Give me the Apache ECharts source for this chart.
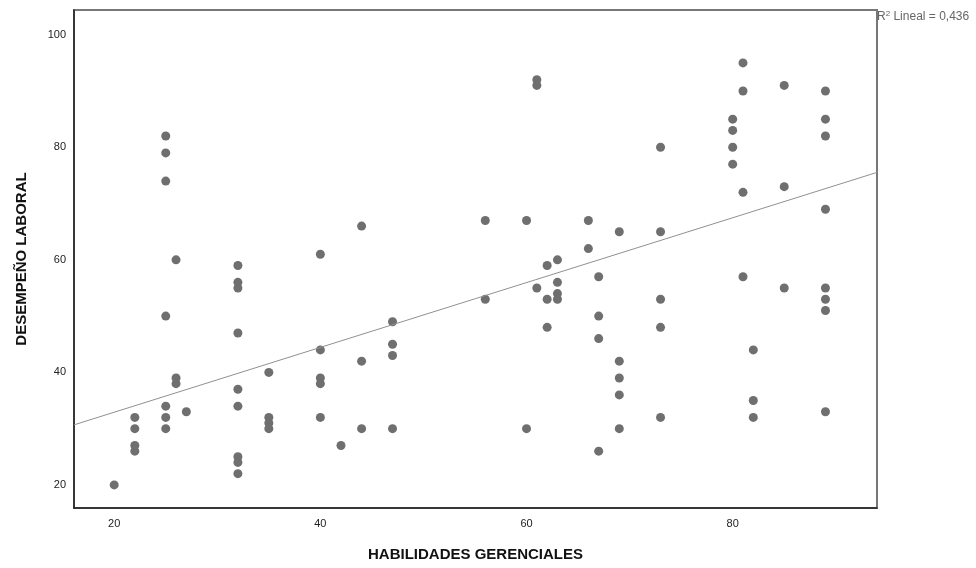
<!DOCTYPE html>
<html>
<head>
    <meta charset="utf-8">
    <title>Desempeño laboral vs habilidades gerenciales</title>
    <script src="https://cdn.jsdelivr.net/npm/echarts@6/dist/echarts.min.js"></script>
    <style>
        html, body { margin: 0; padding: 0; background: #fff; }
        #chart { width: 976px; height: 568px; }
    </style>
</head>
<body>
<div id="chart"></div>
<script type="text/javascript">
    // HABILIDADES GERENCIALES (x) y DESEMPEÑO LABORAL (y)
    const habX = [
        20,
        22, 22, 22, 22,
        25, 25, 25, 25, 25, 25, 25,
        26, 26, 26,
        27,
        32, 32, 32, 32, 32, 32, 32, 32, 32,
        35, 35, 35, 35,
        40, 40, 40, 40, 40,
        42,
        44, 44, 44,
        47, 47, 47, 47,
        56, 56,
        60, 60,
        61, 61, 61,
        62, 62, 62,
        63, 63, 63, 63,
        66, 66,
        67, 67, 67, 67,
        69, 69, 69, 69, 69,
        73, 73, 73, 73, 73,
        80, 80, 80, 80,
        81, 81, 81, 81,
        82, 82, 82,
        85, 85, 85,
        89, 89, 89, 89, 89, 89, 89, 89
    ];
    const desY = [
        20,
        32, 30, 27, 26,
        82, 79, 74, 50, 34, 32, 30,
        60, 39, 38,
        33,
        59, 56, 55, 47, 37, 34, 25, 24, 22,
        40, 32, 31, 30,
        61, 44, 39, 38, 32,
        27,
        66, 42, 30,
        49, 45, 43, 30,
        67, 53,
        67, 30,
        92, 91, 55,
        59, 53, 48,
        60, 56, 54, 53,
        67, 62,
        57, 50, 46, 26,
        65, 42, 39, 36, 30,
        80, 65, 53, 48, 32,
        85, 83, 80, 77,
        95, 90, 72, 57,
        44, 35, 32,
        91, 73, 55,
        90, 85, 82, 69, 55, 53, 51, 33
    ];
    const xTicks = [20, 40, 60, 80];
    const yTicks = [20, 40, 60, 80, 100];
    const xRange = [16.1, 94];
    const yRange = [15.9, 104.4];
    // recta de ajuste lineal (intercepto, pendiente)
    const fitCoef = [21.4, 0.576];
    const r2Text = '0,436';

    const fitLine = xRange.map(x => [x, fitCoef[0] + fitCoef[1] * x]);
    const points = habX.map((x, i) => [x, desY[i]]);

    let myChart = echarts.init(document.getElementById('chart'));
    myChart.setOption({
        animation: false,
        title: {
            text: '{r|R}{sup|2}{r| Lineal = ' + r2Text + '}',
            left: 877,
            top: 10,
            padding: 0,
            textStyle: {
                fontWeight: 'normal',
                rich: {
                    r: { fontFamily: 'Liberation Sans, Arial', fontSize: 12, fontWeight: 'normal', color: '#666' },
                    sup: { fontFamily: 'Liberation Sans, Arial', fontSize: 8, fontWeight: 'normal', color: '#666', verticalAlign: 'top', padding: [0, 0, 5, 0] }
                }
            }
        },
        grid: {
            left: 74,
            right: 99,
            top: 10,
            bottom: 60,
            show: true,
            borderColor: '#777',
            borderWidth: 2
        },
        xAxis: {
            type: 'value',
            min: xRange[0],
            max: xRange[1],
            name: 'HABILIDADES GERENCIALES',
            nameLocation: 'middle',
            nameGap: 39,
            nameTextStyle: { fontFamily: 'Liberation Sans, Arial', fontSize: 15, fontWeight: 'bold', color: '#111' },
            splitLine: { show: false },
            axisLine: { show: true, onZero: false, lineStyle: { color: '#222', width: 1.5 } },
            axisTick: { show: false },
            axisLabel: {
                customValues: xTicks,
                fontFamily: 'Liberation Sans, Arial',
                fontSize: 11,
                color: '#222',
                margin: 10
            }
        },
        yAxis: {
            type: 'value',
            min: yRange[0],
            max: yRange[1],
            name: 'DESEMPEÑO LABORAL',
            nameLocation: 'middle',
            nameGap: 45,
            nameTextStyle: { fontFamily: 'Liberation Sans, Arial', fontSize: 15, fontWeight: 'bold', color: '#111' },
            splitLine: { show: false },
            axisLine: { show: true, onZero: false, lineStyle: { color: '#222', width: 1.5 } },
            axisTick: { show: false },
            axisLabel: {
                customValues: yTicks,
                fontFamily: 'Liberation Sans, Arial',
                fontSize: 11,
                color: '#222',
                margin: 8
            }
        },
        series: [
            {
                name: 'Datos',
                type: 'scatter',
                symbol: 'circle',
                symbolSize: 9,
                itemStyle: { color: '#6f6f6f', opacity: 1 },
                data: points
            },
            {
                name: 'Lineal',
                type: 'line',
                showSymbol: false,
                lineStyle: { color: '#909090', width: 1 },
                data: fitLine
            }
        ]
    });
</script>
</body>
</html>
